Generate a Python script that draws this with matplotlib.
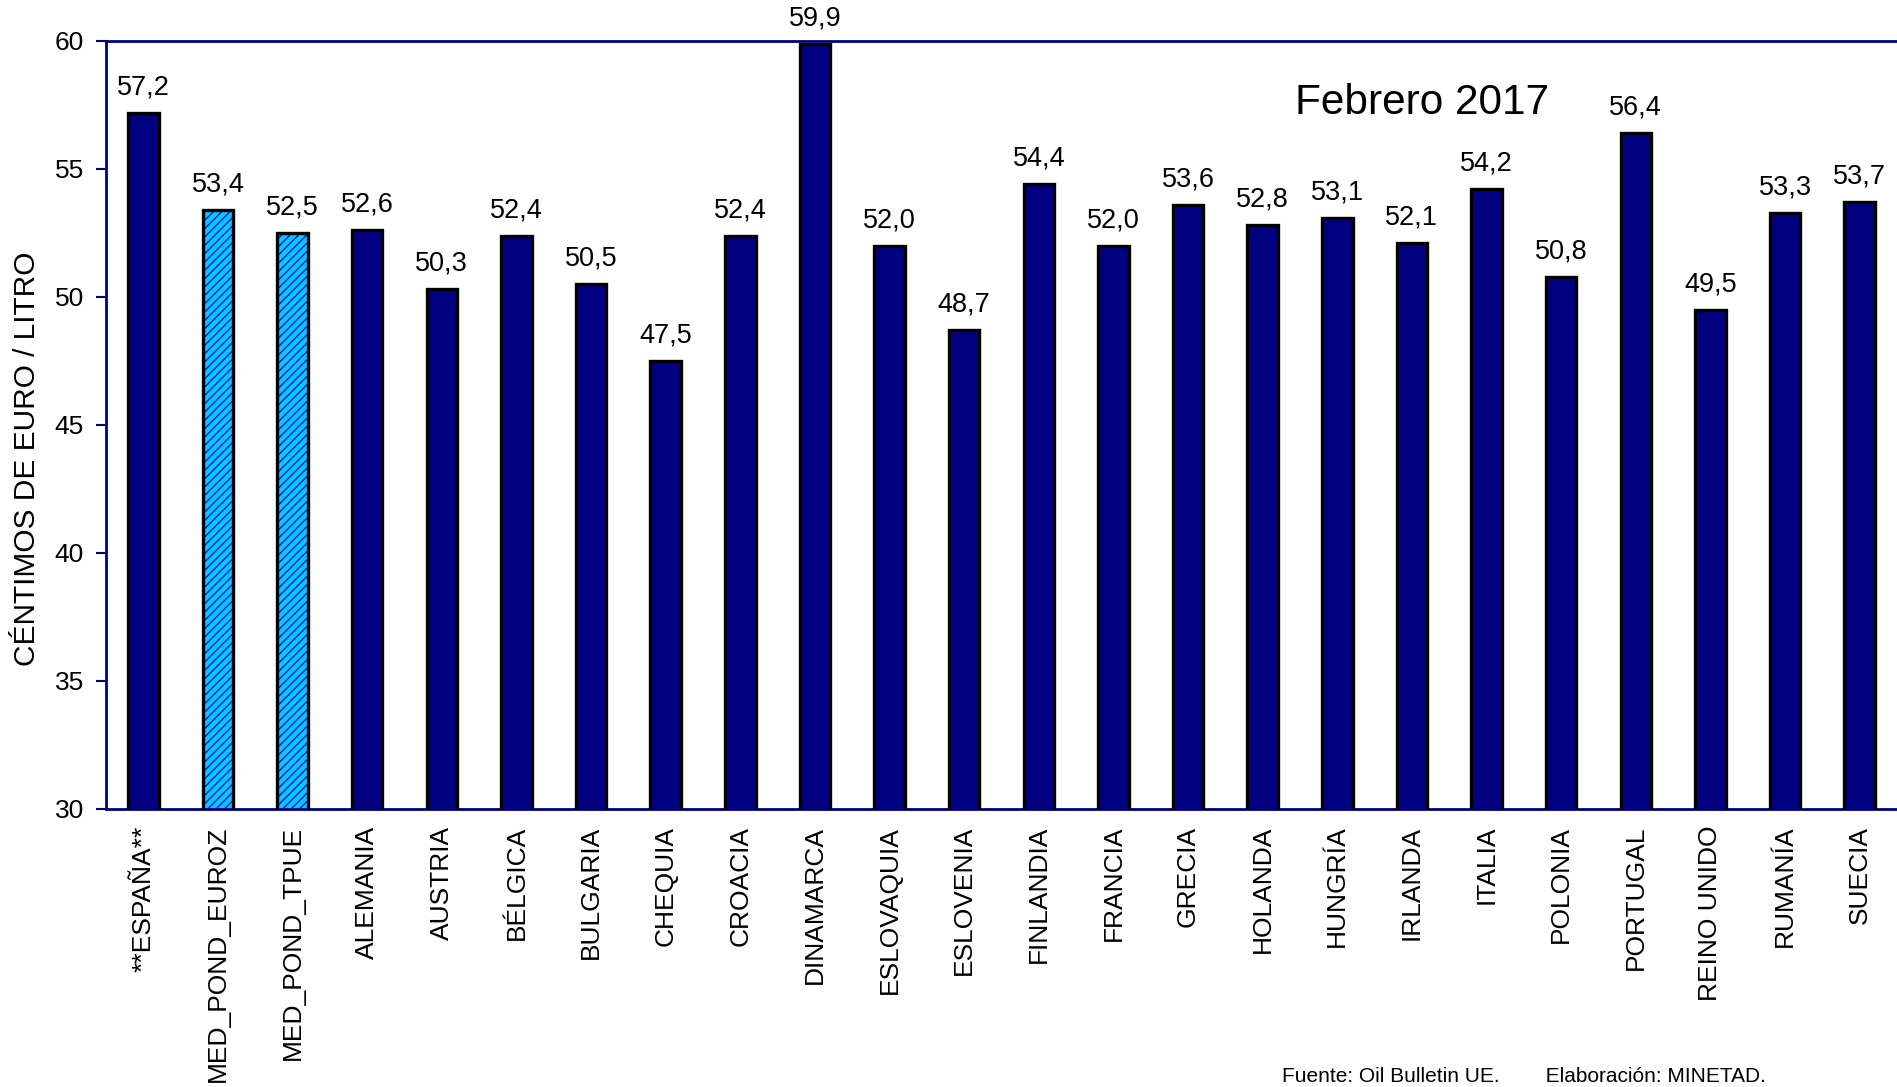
import matplotlib
matplotlib.use("Agg")
import matplotlib.pyplot as plt
import numpy as np

plt.rcParams["font.family"] = ["Liberation Sans", "DejaVu Sans"]
plt.rcParams["hatch.linewidth"] = 1.0

paises = ["**ESPAÑA**", "MED_POND_EUROZ", "MED_POND_TPUE", "ALEMANIA", "AUSTRIA",
          "BÉLGICA", "BULGARIA", "CHEQUIA", "CROACIA", "DINAMARCA", "ESLOVAQUIA",
          "ESLOVENIA", "FINLANDIA", "FRANCIA", "GRECIA", "HOLANDA", "HUNGRÍA",
          "IRLANDA", "ITALIA", "POLONIA", "PORTUGAL", "REINO UNIDO", "RUMANÍA", "SUECIA"]
precios = [57.2, 53.4, 52.5, 52.6, 50.3, 52.4, 50.5, 47.5, 52.4, 59.9, 52.0,
           48.7, 54.4, 52.0, 53.6, 52.8, 53.1, 52.1, 54.2, 50.8, 56.4, 49.5, 53.3, 53.7]
medias = ["MED_POND_EUROZ", "MED_POND_TPUE"]

navy = "#000080"
x = np.arange(len(paises))
ancho = 0.41

fig = plt.figure(figsize=(18.97, 10.87), dpi=100)
ax = fig.add_axes([106 / 1897, 1 - 809 / 1087, 1 - 106 / 1897, (809 - 41) / 1087])

for i, (p, v) in enumerate(zip(paises, precios)):
    if p in medias:
        ax.bar(x[i], v, ancho, color="#00CCFF", edgecolor="#1010E0", linewidth=0,
               hatch="////", zorder=2)
        ax.bar(x[i], v, ancho, color="none", edgecolor="black", linewidth=2.4, zorder=3)
    else:
        ax.bar(x[i], v, ancho, color=navy, edgecolor="black", linewidth=2.4, zorder=3)
    ax.annotate(f"{v:.1f}".replace(".", ","), (x[i], v), xytext=(0, 9),
                textcoords="offset points", ha="center", va="bottom",
                fontsize=19.5, annotation_clip=False)

ax.set_ylim(30, 60)
ax.set_xlim(-0.5, len(paises) - 0.5)
ax.set_yticks(np.arange(30, 61, 5))
ax.set_xticks(x)
ax.set_xticklabels(paises, rotation=90, fontsize=19, va="top")
ax.tick_params(axis="x", length=0, pad=12)
ax.tick_params(axis="y", direction="out", length=7, width=1.5, color=navy,
               labelsize=19, pad=9)

for s in ["left", "top", "bottom"]:
    ax.spines[s].set_color(navy)
    ax.spines[s].set_linewidth(2)
ax.spines["right"].set_visible(False)

fig.text(27 / 1897, 1 - 459 / 1087, "CÉNTIMOS DE EURO / LITRO", rotation=90,
         ha="center", va="center", fontsize=21.5)
fig.text(1422 / 1897, 1 - 103 / 1087, "Febrero 2017", ha="center", va="center",
         fontsize=30.5)
fig.text(1282 / 1897, 0.001, "Fuente: Oil Bulletin UE.        Elaboración: MINETAD.",
         ha="left", va="bottom", fontsize=15)

fig.savefig("out.png", dpi=100)
